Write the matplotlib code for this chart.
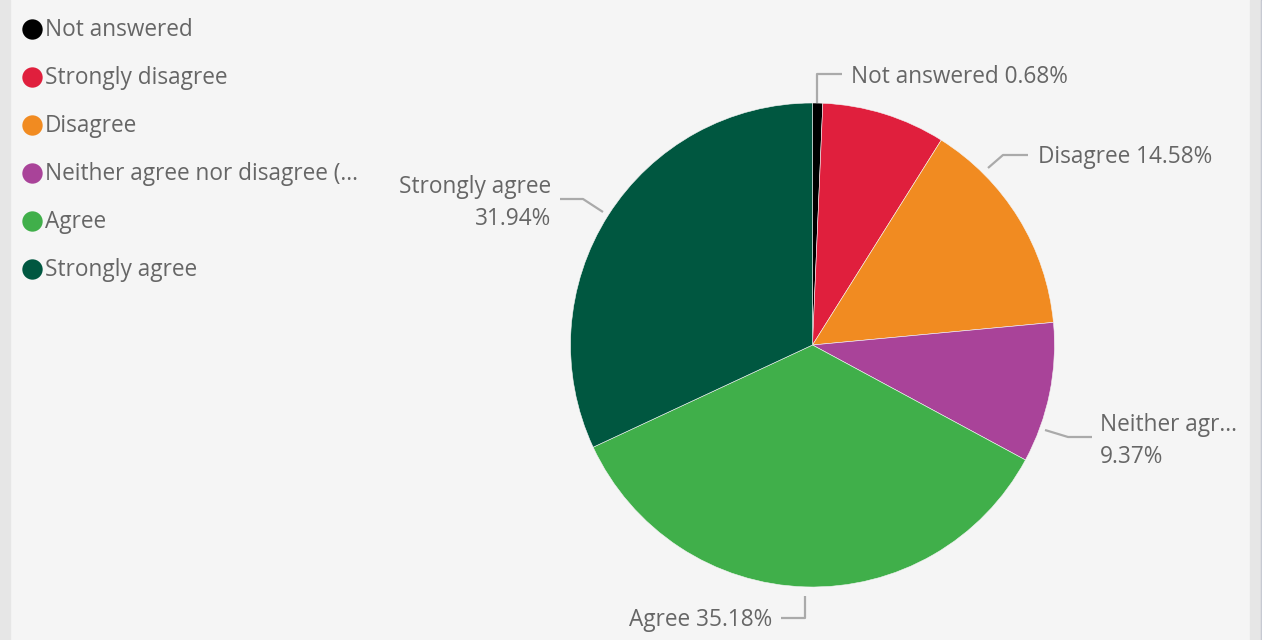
import matplotlib
matplotlib.use("Agg")
import matplotlib.pyplot as plt
from matplotlib.patches import Rectangle

# ---- data ----
categories = ["Not answered", "Strongly disagree", "Disagree",
              "Neither agree nor disagree (...", "Agree", "Strongly agree"]
values = [0.68, 8.25, 14.58, 9.37, 35.18, 31.94]
colors = ["#000000", "#E01F3D", "#F18B21", "#A94399", "#40AF4A", "#005740"]
label_texts = ["Not answered 0.68%", None, "Disagree 14.58%",
               "Neither agr...\n9.37%", "Agree 35.18%", "Strongly agree\n31.94%"]

W, H = 1263, 640
BG = "#F5F5F5"
TXT = "#666666"
LINE = "#AAAAAA"
FONT = "Open Sans"
FS = 16.3

fig = plt.figure(figsize=(W / 100, H / 100), dpi=100)
fig.patch.set_facecolor(BG)
ax = fig.add_axes([0, 0, 1, 1])
ax.set_facecolor(BG)

def Y(y):
    return H - y

# panel borders
ax.add_patch(Rectangle((0, 0), 10, H, color="#E6E6E6", zorder=0))
ax.add_patch(Rectangle((1250, 0), 11, H, color="#E6E6E6", zorder=0))
ax.add_patch(Rectangle((1261, 0), 1.2, H, color="#B9BDC8", zorder=0))
ax.add_patch(Rectangle((1262.2, 0), 1, H, color="#FFFFFF", zorder=0))

# pie
cx, cy, r = 812.5, 345, 242
wedges, _ = ax.pie(values, colors=colors, startangle=90, counterclock=False,
                   center=(cx, Y(cy)), radius=r, frame=True,
                   wedgeprops=dict(edgecolor=BG, linewidth=0.4))

# leader lines (pixel layout) and label placement
leaders = [
    [(817, 103), (817, 74), (842, 74)],
    None,
    [(988, 168), (1003, 155), (1028, 155)],
    [(1045, 430), (1068, 437), (1092, 437)],
    [(805, 596), (805, 618), (781, 618)],
    [(603, 212), (583, 199), (560, 199)],
]
label_pos = [
    (851, 77, "left"),
    None,
    (1038, 157, "left"),
    (1100, 441, "left"),
    (772, 620, "right"),
    (551, 203, "right"),
]
for lead, pos, txt in zip(leaders, label_pos, label_texts):
    if lead is None:
        continue
    xs = [p[0] for p in lead]
    ys = [Y(p[1]) for p in lead]
    ax.plot(xs, ys, color=LINE, lw=1.6, solid_capstyle="butt", zorder=3)
    x, y, ha = pos
    ax.text(x, Y(y), txt, ha=ha, va="center", fontsize=FS, color=TXT,
            family=FONT, linespacing=1.42, multialignment=ha)

# legend
for i, (cat, col) in enumerate(zip(categories, colors)):
    yy = 29 + 48 * i
    ax.scatter([32], [Y(yy)], s=215, color=col, zorder=4, linewidths=0)
    ax.text(45, Y(yy + 1.5), cat, ha="left", va="center", fontsize=FS, color=TXT,
            family=FONT)

ax.set_xlim(0, W)
ax.set_ylim(0, H)
ax.set_aspect("auto")
ax.axis("off")

fig.savefig("out.png", dpi=100, facecolor=BG)
